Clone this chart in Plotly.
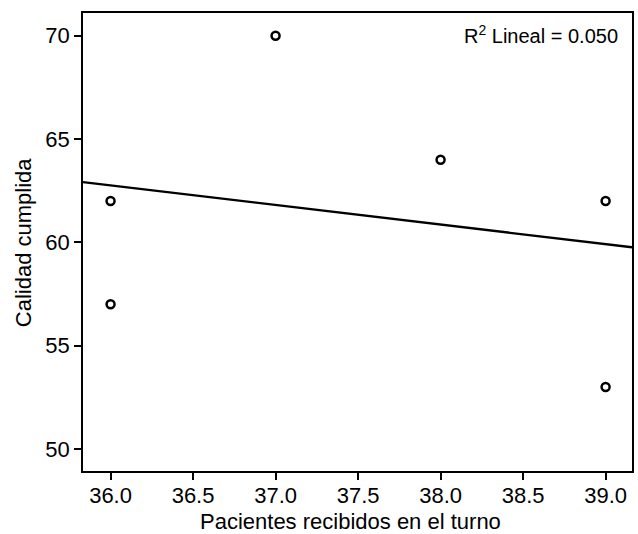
import numpy as np
import plotly.graph_objects as go

pacientes = [36, 36, 37, 38, 39, 39]
calidad = [62, 57, 70, 64, 62, 53]
x_ticks = [36.0, 36.5, 37.0, 37.5, 38.0, 38.5, 39.0]
x_tick_labels = ["36.0", "36.5", "37.0", "37.5", "38.0", "38.5", "39.0"]
y_ticks = [50, 55, 60, 65, 70]
x_range = [35.833, 39.16]
y_range = [48.93, 71.1]
x_title = "Pacientes recibidos en el turno"
y_title = "Calidad cumplida"

xa = np.array(pacientes, dtype=float)
ya = np.array(calidad, dtype=float)
slope, intercept = np.polyfit(xa, ya, 1)
r2 = np.corrcoef(xa, ya)[0, 1] ** 2
line_x = np.array(x_range)
line_y = intercept + slope * line_x

W, H = 638, 534
ML, MR, MT, MB = 83, 4, 13, 63
PW, PH = W - ML - MR, H - MT - MB

fig = go.Figure()
fig.add_trace(go.Scatter(x=line_x, y=line_y, mode="lines",
                         line=dict(color="black", width=2.3),
                         hoverinfo="skip", showlegend=False))
fig.add_trace(go.Scatter(x=pacientes, y=calidad, mode="markers",
                         marker=dict(symbol="circle-open", size=8, color="black",
                                     line=dict(width=2.5, color="black")),
                         showlegend=False))

font = "Liberation Sans, Arial, Helvetica, sans-serif"
fig.add_annotation(text=f"R<sup>2</sup> Lineal = {r2:.3f}", xref="paper", yref="paper",
                   x=0.978, y=0.953, xanchor="right", yanchor="middle", showarrow=False,
                   font=dict(family=font, size=20, color="black"))
# axis titles placed at fixed pixel offsets from the plot frame
fig.add_annotation(text=x_title, xref="paper", yref="paper",
                   x=0.5 - 0.012, y=-(521 - (H - MB)) / PH, xanchor="center", yanchor="middle",
                   showarrow=False, font=dict(family=font, size=22, color="black"))
fig.add_annotation(text=y_title, xref="paper", yref="paper",
                   x=(23 - ML) / PW, y=1 - (242 - MT) / PH, xanchor="center", yanchor="middle",
                   textangle=-90, showarrow=False,
                   font=dict(family=font, size=22, color="black"))

fig.update_layout(
    width=W, height=H,
    margin=dict(l=ML, r=MR, t=MT, b=MB),
    paper_bgcolor="white", plot_bgcolor="white",
    font=dict(family=font, size=22, color="black"),
)
fig.update_xaxes(range=x_range, tickvals=x_ticks, ticktext=x_tick_labels,
                 showgrid=False, zeroline=False, showline=True, mirror=True,
                 linecolor="black", linewidth=1.6, ticks="outside", ticklen=7,
                 tickwidth=1.5, tickcolor="black", tickfont=dict(size=22),
                 ticklabelstandoff=-3)
fig.update_yaxes(range=y_range, tickvals=y_ticks,
                 showgrid=False, zeroline=False, showline=True, mirror=True,
                 linecolor="black", linewidth=1.6, ticks="outside", ticklen=7,
                 tickwidth=1.5, tickcolor="black", tickfont=dict(size=22))

fig.write_html("out.html", config={"displayModeBar": False},
               post_script="document.body.style.margin='0';document.body.style.overflow='hidden';")
